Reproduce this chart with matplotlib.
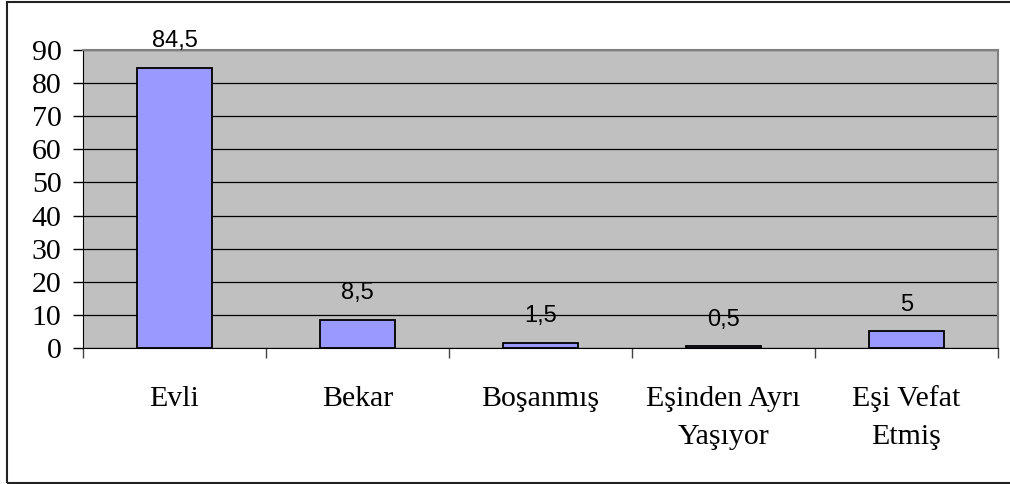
import matplotlib.pyplot as plt
from matplotlib.patches import Rectangle

# Veriler
kategoriler = ["Evli", "Bekar", "Boşanmış", "Eşinden Ayrı\nYaşıyor", "Eşi Vefat\nEtmiş"]
yuzdeler = [84.5, 8.5, 1.5, 0.5, 5]
etiketler = ["84,5", "8,5", "1,5", "0,5", "5"]
y_ticks = [0, 10, 20, 30, 40, 50, 60, 70, 80, 90]

fig = plt.figure(figsize=(10.1, 4.84), dpi=100)
ax = fig.add_axes([83 / 1010, 1 - 348 / 484, 915 / 1010, 298 / 484])

# dış çerçeve
fig.patches.append(Rectangle((7 / 1010, 1.5 / 484), 1.1, 481 / 484,
                             transform=fig.transFigure, fill=False,
                             edgecolor="#222222", linewidth=1.5))

ax.set_facecolor("#C0C0C0")
x = range(len(kategoriler))
ax.bar(x, yuzdeler, width=0.41, color="#9999FF", edgecolor="black",
       linewidth=1.3, zorder=3)

for xi, v, lab in zip(x, yuzdeler, etiketler):
    ax.annotate(lab, (xi, v), xytext=(0, 15), textcoords="offset points",
                ha="center", va="baseline", fontsize=17,
                family="Liberation Sans", zorder=4)

ax.set_ylim(0, 90)
ax.set_xlim(-0.5, len(kategoriler) - 0.5)
ax.set_yticks(y_ticks)
ax.set_yticklabels([str(t) for t in y_ticks], family="Liberation Serif", fontsize=21.5)
ax.yaxis.grid(True, color="black", linewidth=0.9, zorder=1)
ax.set_axisbelow(True)

# kategori sınırlarında x tikleri
ax.set_xticks([i - 0.5 for i in range(len(kategoriler) + 1)])
ax.set_xticklabels([])
ax.set_xticks(list(x), minor=True)
ax.set_xticklabels(kategoriler, minor=True, family="Liberation Serif",
                   fontsize=21.5, linespacing=1.6, va="top")
ax.tick_params(axis="x", which="minor", length=0, pad=27)
ax.tick_params(axis="x", which="major", length=7, width=1, color="#444444")
ax.tick_params(axis="y", length=7.5, width=1, pad=8)

ax.spines["top"].set_color("#808080")
ax.spines["right"].set_color("#808080")
ax.spines["top"].set_linewidth(1.5)
ax.spines["right"].set_linewidth(1.5)
ax.spines["left"].set_color("black")
ax.spines["bottom"].set_color("black")

plt.savefig("out.png", dpi=100)
